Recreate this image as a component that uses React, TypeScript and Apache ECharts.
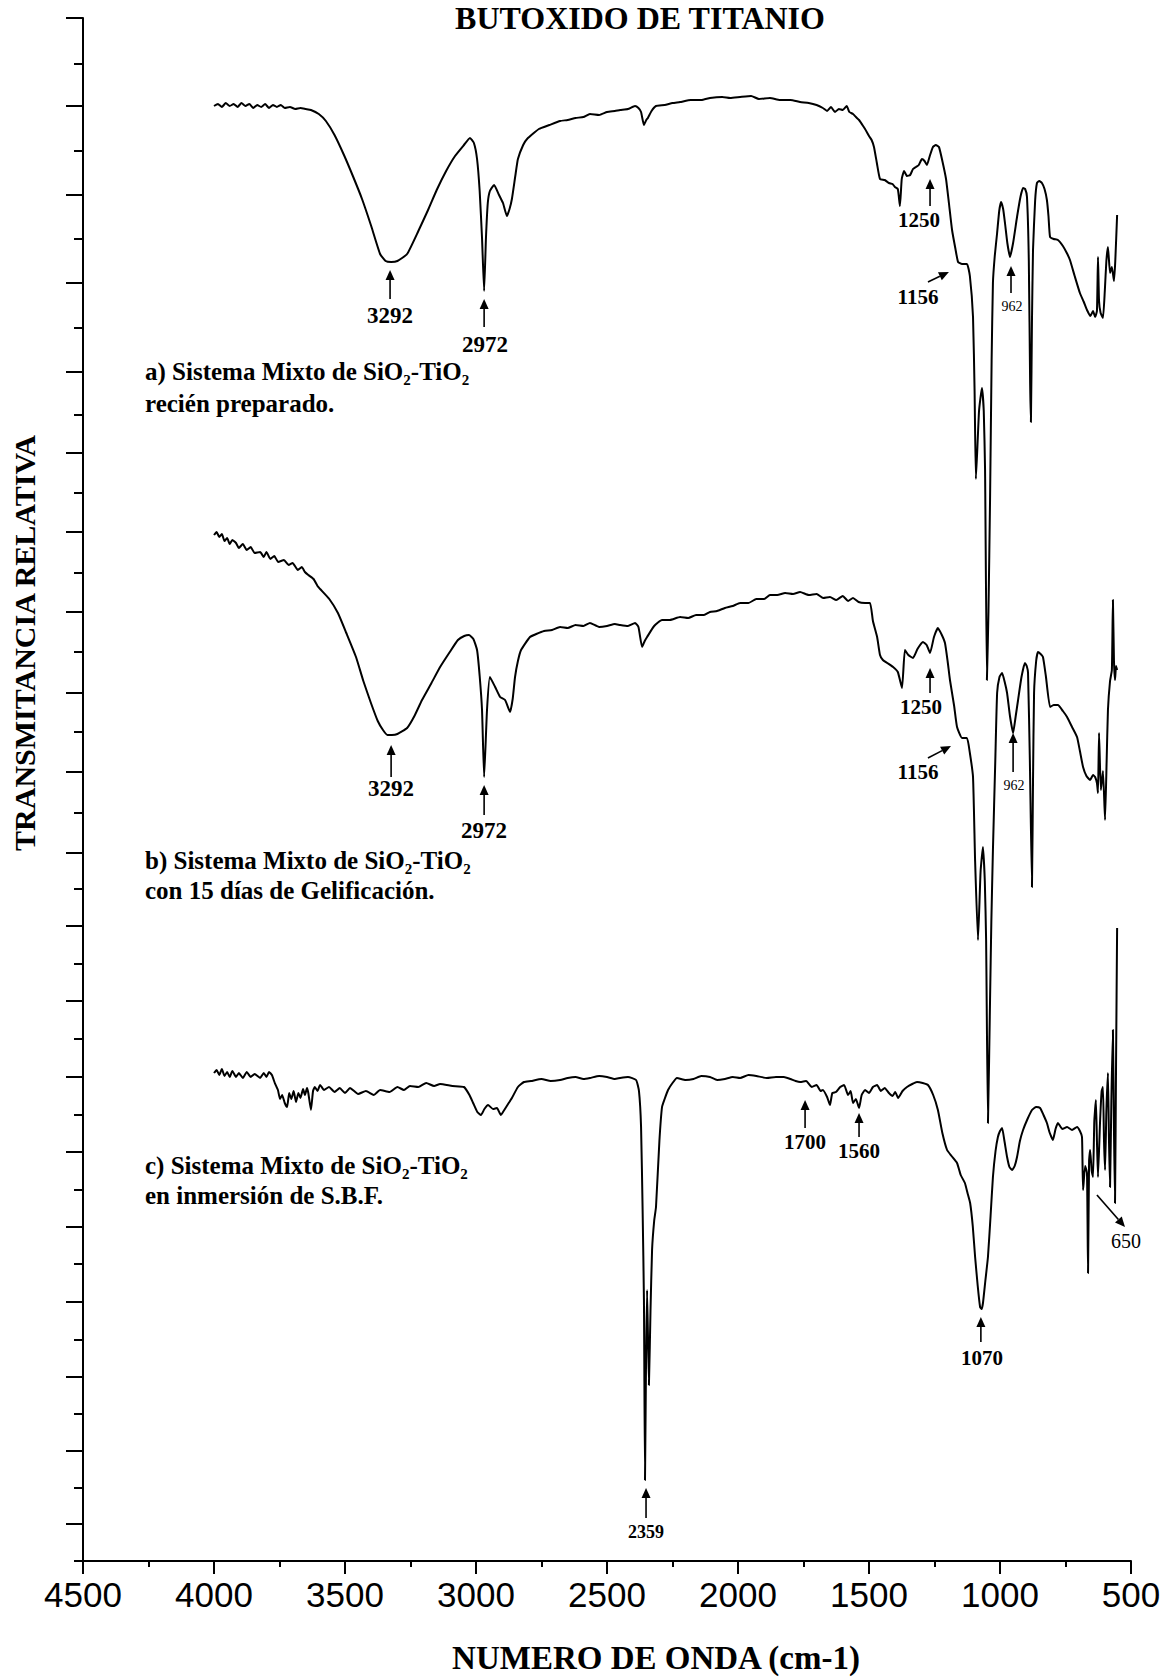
import React, { useEffect, useRef } from "react";
import * as echarts from "echarts";

// Wavenumber (cm-1) and relative transmittance (arbitrary units)
const spectrumA: number[][] = [
  [4000, 1455], [3985, 1457], [3970, 1454], [3955, 1458], [3940, 1455], [3925, 1457], [3910, 1454], [3895, 1458],
  [3880, 1455], [3865, 1457], [3850, 1453], [3835, 1456], [3820, 1454], [3805, 1457], [3790, 1453], [3775, 1456],
  [3760, 1454], [3745, 1456], [3730, 1453], [3710, 1454], [3690, 1452], [3670, 1453], [3650, 1452], [3630, 1451],
  [3600, 1447], [3573, 1440], [3540, 1426], [3504, 1406], [3470, 1385], [3435, 1362], [3400, 1335], [3366, 1307],
  [3345, 1300], [3324, 1299], [3300, 1300], [3263, 1307], [3220, 1330], [3183, 1351], [3150, 1371], [3114, 1390],
  [3080, 1405], [3046, 1416], [3023, 1423], [3008, 1418], [2996, 1402], [2986, 1370], [2977, 1323], [2969, 1270],
  [2962, 1323], [2955, 1358], [2947, 1370], [2931, 1376], [2912, 1366], [2897, 1358], [2882, 1345], [2872, 1352],
  [2863, 1362], [2850, 1385], [2840, 1402], [2820, 1416], [2805, 1422], [2760, 1432], [2720, 1436], [2679, 1440],
  [2650, 1441], [2620, 1443], [2590, 1444], [2565, 1447], [2530, 1446], [2500, 1449], [2470, 1450], [2450, 1451],
  [2420, 1452], [2393, 1455], [2380, 1453], [2370, 1449], [2359, 1436], [2350, 1441], [2344, 1443], [2330, 1450],
  [2313, 1455], [2280, 1456], [2250, 1458], [2221, 1459], [2180, 1461], [2140, 1461], [2107, 1463], [2060, 1464],
  [2030, 1463], [1992, 1464], [1950, 1465], [1920, 1462], [1878, 1463], [1840, 1461], [1800, 1461], [1763, 1459],
  [1730, 1458], [1700, 1456], [1676, 1453], [1660, 1450], [1645, 1454], [1630, 1449], [1615, 1452], [1600, 1451],
  [1585, 1455], [1575, 1449], [1561, 1447], [1550, 1444], [1538, 1441], [1525, 1436], [1515, 1432], [1500, 1425],
  [1490, 1421], [1481, 1414], [1470, 1398], [1458, 1382], [1440, 1381], [1424, 1378], [1410, 1377], [1401, 1374],
  [1390, 1372], [1382, 1355], [1375, 1382], [1366, 1390], [1355, 1385], [1343, 1386], [1332, 1392], [1321, 1394],
  [1310, 1396], [1298, 1402], [1288, 1400], [1279, 1396], [1268, 1405], [1256, 1414], [1245, 1416], [1233, 1414],
  [1220, 1400], [1206, 1382], [1195, 1358], [1183, 1331], [1170, 1312], [1160, 1299], [1145, 1297], [1126, 1297],
  [1115, 1285], [1103, 1244], [1097, 1170], [1092, 1082], [1080, 1150], [1069, 1173], [1062, 1150], [1057, 1091],
  [1050, 881], [1044, 950], [1038, 1061], [1032, 1200], [1027, 1278], [1020, 1305], [1011, 1328], [1003, 1350],
  [996, 1359], [988, 1352], [981, 1338], [972, 1318], [962, 1304], [950, 1318], [935, 1344], [922, 1364],
  [912, 1373], [904, 1372], [897, 1364], [890, 1300], [885, 1178], [882, 1139], [878, 1240], [874, 1311],
  [866, 1360], [859, 1378], [850, 1380], [840, 1378], [830, 1372], [821, 1361], [815, 1345], [809, 1324],
  [795, 1322], [779, 1321], [760, 1315], [745, 1308], [733, 1301], [715, 1285], [695, 1268], [680, 1259],
  [668, 1251], [655, 1245], [645, 1250], [637, 1244], [630, 1250], [626, 1304], [622, 1260], [616, 1248],
  [607, 1243], [600, 1270], [594, 1300], [588, 1314], [580, 1288], [573, 1294], [565, 1280], [560, 1300],
  [553, 1346],
];

const spectrumB: number[][] = [
  [4000, 1026], [3990, 1029], [3980, 1024], [3970, 1027], [3960, 1020], [3950, 1023], [3940, 1017], [3930, 1021],
  [3916, 1018], [3905, 1013], [3890, 1017], [3875, 1011], [3860, 1014], [3845, 1008], [3824, 1009], [3810, 1004],
  [3800, 1009], [3785, 1002], [3770, 1005], [3755, 999], [3733, 1001], [3715, 996], [3700, 998], [3680, 991],
  [3665, 994], [3653, 989], [3640, 986], [3620, 982], [3605, 975], [3595, 972], [3560, 962], [3527, 948],
  [3495, 928], [3458, 904], [3430, 880], [3401, 858], [3375, 840], [3355, 831], [3338, 826], [3321, 826],
  [3300, 827], [3263, 833], [3235, 845], [3206, 861], [3170, 878], [3137, 894], [3100, 909], [3069, 921],
  [3045, 925], [3027, 926], [3010, 922], [2996, 911], [2986, 885], [2977, 851], [2969, 784], [2958, 851],
  [2947, 884], [2927, 874], [2908, 864], [2889, 861], [2870, 849], [2860, 862], [2851, 884], [2840, 900],
  [2828, 911], [2794, 924], [2770, 927], [2740, 930], [2710, 931], [2679, 934], [2650, 933], [2620, 936],
  [2590, 935], [2565, 938], [2530, 934], [2500, 935], [2470, 937], [2450, 936], [2420, 935], [2393, 938],
  [2380, 934], [2366, 914], [2356, 920], [2347, 924], [2320, 935], [2290, 941], [2260, 941], [2221, 944],
  [2190, 943], [2160, 946], [2130, 946], [2107, 949], [2080, 950], [2050, 953], [2020, 955], [1992, 958],
  [1960, 958], [1930, 962], [1900, 962], [1878, 966], [1850, 966], [1820, 968], [1790, 967], [1763, 969],
  [1730, 966], [1700, 967], [1675, 963], [1649, 964], [1625, 961], [1600, 965], [1580, 960], [1561, 963],
  [1540, 959], [1515, 958], [1496, 958], [1485, 940], [1469, 924], [1458, 906], [1447, 901], [1430, 898],
  [1408, 894], [1390, 889], [1374, 873], [1363, 911], [1350, 906], [1332, 903], [1315, 912], [1294, 919],
  [1280, 916], [1267, 908], [1252, 924], [1237, 933], [1222, 926], [1210, 918], [1200, 900], [1191, 881],
  [1175, 855], [1164, 834], [1145, 823], [1126, 823], [1115, 808], [1103, 784], [1095, 700], [1084, 621],
  [1074, 690], [1065, 714], [1058, 680], [1053, 621], [1046, 438], [1038, 561], [1033, 640], [1027, 711],
  [1018, 800], [1011, 868], [1002, 884], [992, 888], [982, 879], [973, 868], [962, 845], [950, 828],
  [940, 845], [931, 861], [918, 884], [905, 898], [898, 895], [893, 888], [886, 800], [878, 674],
  [874, 780], [870, 868], [862, 900], [855, 909], [845, 907], [836, 904], [825, 885], [809, 854],
  [795, 856], [779, 856], [760, 850], [744, 844], [725, 834], [706, 824], [695, 810], [683, 794],
  [670, 785], [656, 781], [645, 786], [637, 784], [630, 778], [626, 768], [622, 828], [615, 771],
  [607, 790], [599, 741], [593, 800], [588, 851], [580, 880], [573, 891], [569, 961], [565, 900],
  [561, 881], [557, 895], [553, 891],
];

const spectrumC: number[][] = [
  [4000, 488], [3990, 491], [3980, 486], [3970, 492], [3960, 485], [3950, 489], [3940, 484], [3930, 490],
  [3916, 484], [3905, 488], [3890, 483], [3875, 489], [3860, 484], [3845, 487], [3824, 483], [3810, 488],
  [3800, 484], [3790, 489], [3779, 486], [3768, 478], [3756, 471], [3748, 462], [3740, 466], [3730, 458],
  [3721, 454], [3713, 468], [3705, 462], [3696, 470], [3687, 459], [3678, 468], [3670, 463], [3660, 472],
  [3653, 466], [3645, 473], [3640, 468], [3630, 451], [3622, 470], [3615, 474], [3605, 470], [3595, 476],
  [3580, 471], [3561, 474], [3540, 469], [3520, 473], [3500, 468], [3481, 473], [3450, 467], [3420, 470],
  [3390, 466], [3366, 471], [3330, 469], [3300, 474], [3275, 471], [3252, 475], [3220, 474], [3190, 478],
  [3160, 475], [3137, 477], [3090, 475], [3046, 474], [3025, 466], [3011, 458], [2995, 449], [2981, 446],
  [2968, 452], [2954, 456], [2935, 452], [2920, 453], [2905, 446], [2897, 449], [2880, 456], [2863, 463],
  [2840, 474], [2817, 479], [2790, 480], [2750, 482], [2715, 480], [2679, 481], [2650, 483], [2620, 484],
  [2590, 482], [2565, 483], [2530, 485], [2500, 484], [2470, 482], [2450, 483], [2420, 484], [2389, 481],
  [2378, 470], [2370, 434], [2364, 350], [2359, 261], [2355, 81], [2351, 200], [2347, 271], [2340, 176],
  [2334, 250], [2328, 311], [2320, 340], [2313, 354], [2300, 420], [2290, 454], [2280, 462], [2267, 471],
  [2250, 478], [2233, 483], [2200, 481], [2170, 482], [2140, 485], [2107, 484], [2080, 481], [2050, 482],
  [2020, 484], [1992, 483], [1960, 486], [1930, 485], [1890, 483], [1855, 484], [1825, 484], [1800, 482],
  [1780, 480], [1763, 479], [1740, 480], [1718, 474], [1700, 476], [1685, 470], [1676, 471], [1660, 464],
  [1649, 456], [1640, 468], [1626, 469], [1610, 474], [1595, 476], [1580, 466], [1570, 470], [1561, 458],
  [1550, 462], [1538, 453], [1528, 466], [1515, 471], [1500, 468], [1485, 474], [1469, 476], [1455, 470],
  [1440, 473], [1424, 468], [1410, 465], [1400, 469], [1389, 463], [1372, 470], [1355, 474], [1335, 477],
  [1317, 479], [1295, 478], [1275, 476], [1255, 466], [1237, 451], [1220, 428], [1202, 411], [1185, 405],
  [1164, 398], [1150, 386], [1134, 378], [1124, 368], [1114, 358], [1104, 335], [1095, 304], [1085, 275],
  [1076, 254], [1070, 252], [1065, 258], [1056, 280], [1046, 304], [1036, 345], [1027, 384], [1017, 410],
  [1008, 424], [1000, 430], [992, 433], [983, 420], [973, 404], [964, 394], [954, 391], [944, 395],
  [935, 404], [924, 420], [912, 431], [895, 442], [878, 451], [862, 454], [847, 453], [834, 446],
  [821, 438], [810, 428], [798, 421], [788, 432], [779, 438], [762, 432], [744, 434], [725, 431],
  [706, 434], [695, 430], [687, 424], [683, 371], [675, 395], [668, 388], [664, 288], [660, 400],
  [656, 411], [650, 390], [645, 384], [640, 440], [634, 461], [630, 420], [626, 384], [618, 440],
  [612, 470], [607, 474], [603, 420], [599, 391], [594, 450], [588, 488], [584, 420], [580, 374],
  [575, 460], [569, 531], [565, 430], [561, 358], [557, 500], [553, 633],
];

// Left axis tick positions (transmittance units); even-indexed ticks are the long ones
const yTickValues: number[] = [
  1543, 1497, 1455, 1410, 1366, 1322, 1278, 1233, 1189, 1146, 1108, 1068, 1029, 988, 949, 909, 868, 829, 789, 748,
  708, 672, 635, 597, 560, 522, 484, 446, 409, 371, 334, 297, 259, 221, 184, 147, 110, 73, 37, 0,
];
const yTickMajor: boolean[] = yTickValues.map((_, i) => i % 2 === 0);

// Peak annotations: label, arrow tail, arrow tip, label position (wavenumber, transmittance)
const annotations = [
  { label: "3292", tail: [3328, 1262], tip: [3328, 1291], at: [3328, 1246], size: 23, bold: true },
  { label: "2972", tail: [2969, 1234], tip: [2969, 1262], at: [2966, 1217], size: 23, bold: true },
  { label: "1250", tail: [1267, 1355], tip: [1267, 1382], at: [1309, 1341], size: 21, bold: true },
  { label: "1156", tail: [1275, 1279], tip: [1195, 1289], at: [1313, 1264], size: 21, bold: true },
  { label: "962", tail: [958, 1268], tip: [958, 1295], at: [954, 1255], size: 14, bold: false },
  { label: "3292", tail: [3324, 784], tip: [3324, 816], at: [3324, 773], size: 23, bold: true },
  { label: "2972", tail: [2969, 746], tip: [2969, 776], at: [2969, 731], size: 23, bold: true },
  { label: "1250", tail: [1267, 868], tip: [1267, 893], at: [1302, 854], size: 21, bold: true },
  { label: "1156", tail: [1275, 803], tip: [1187, 815], at: [1313, 789], size: 21, bold: true },
  { label: "962", tail: [950, 789], tip: [950, 828], at: [947, 776], size: 14, bold: false },
  { label: "1700", tail: [1744, 433], tip: [1744, 461], at: [1744, 419], size: 21, bold: true },
  { label: "1560", tail: [1538, 424], tip: [1538, 448], at: [1538, 410], size: 21, bold: true },
  { label: "1070", tail: [1073, 219], tip: [1073, 244], at: [1069, 203], size: 21, bold: true },
  { label: "650", tail: [630, 366], tip: [523, 334], at: [519, 320], size: 20, bold: false },
  { label: "2359", tail: [2351, 43], tip: [2351, 73], at: [2351, 29], size: 18, bold: true },
];

const sampleTexts: string[][] = [
  ["a) Sistema Mixto de SiO\u2082-TiO\u2082", "recién preparado."],
  ["b) Sistema Mixto de SiO\u2082-TiO\u2082", "con 15 días de Gelificación."],
  ["c) Sistema Mixto de SiO\u2082-TiO\u2082", "en inmersión de S.B.F."],
];

const titleText = "BUTOXIDO DE TITANIO";
const xTitle = "NUMERO DE ONDA (cm-1)";
const yTitle = "TRANSMITANCIA RELATIVA";

const SERIF = '"Liberation Serif", "Times New Roman", serif';

export default function App() {
  const ref = useRef<HTMLDivElement>(null);
  useEffect(() => {
    if (!ref.current) return;
    const chart = echarts.init(ref.current, null, { renderer: "svg" });

    const spectrumSeries = [spectrumA, spectrumB, spectrumC].map((d, i) => ({
      name: ["a", "b", "c"][i],
      type: "line",
      data: d,
      symbol: "none",
      smooth: 0.15,
      lineStyle: { color: "#000", width: 2, join: "round" },
      silent: true,
      z: 3,
    }));

    const textBlocks: any[] = [];
    const blockY = [[371, 403], [860, 890], [1165, 1195]];
    sampleTexts.forEach((lines, i) => {
      lines.forEach((t, j) => {
        textBlocks.push({
          type: "text",
          x: 145,
          y: blockY[i][j],
          style: {
            text: t,
            font: `bold 25px ${SERIF}`,
            fill: "#000",
            textAlign: "left",
            align: "left",
            textVerticalAlign: "middle",
            verticalAlign: "middle",
          },
        });
      });
    });

    const option: any = {
      animation: false,
      backgroundColor: "#fff",
      grid: { left: 83, right: 38, top: 18, bottom: 116, containLabel: false },
      xAxis: {
        type: "value",
        min: 500,
        max: 4500,
        interval: 500,
        inverse: true,
        axisLine: { onZero: false, lineStyle: { color: "#000", width: 2 } },
        axisTick: { length: 13, lineStyle: { color: "#000", width: 2 } },
        minorTick: { show: true, splitNumber: 2, length: 6, lineStyle: { color: "#000", width: 2 } },
        axisLabel: {
          color: "#000",
          fontFamily: '"Liberation Sans", Arial, sans-serif',
          fontSize: 35,
          margin: 16,
          formatter: (v: number) => String(v),
        },
        splitLine: { show: false },
        minorSplitLine: { show: false },
      },
      yAxis: {
        type: "value",
        min: 0,
        max: 1543,
        axisLine: { show: true, onZero: false, lineStyle: { color: "#000", width: 2 } },
        axisTick: { show: false },
        axisLabel: { show: false },
        splitLine: { show: false },
      },
      series: [
        ...spectrumSeries,
        {
          type: "custom",
          name: "yticks",
          data: yTickValues.map((v) => [4500, v]),
          encode: { x: 0, y: 1 },
          clip: false,
          silent: true,
          renderItem: (params: any, api: any) => {
            const v = yTickValues[params.dataIndex];
            const p = api.coord([4500, v]);
            const len = yTickMajor[params.dataIndex] ? 17 : 9;
            return {
              type: "line",
              shape: { x1: p[0] - len, y1: p[1], x2: p[0], y2: p[1] },
              style: { stroke: "#000", lineWidth: 2 },
            };
          },
        },
        {
          type: "custom",
          name: "annotations",
          data: annotations.map((a) => [a.tip[0], a.tip[1]]),
          encode: { x: 0, y: 1 },
          clip: false,
          silent: true,
          z: 4,
          renderItem: (params: any, api: any) => {
            const a = annotations[params.dataIndex];
            const p1 = api.coord(a.tail);
            const p2 = api.coord(a.tip);
            const pl = api.coord(a.at);
            const dx = p2[0] - p1[0];
            const dy = p2[1] - p1[1];
            const L = Math.hypot(dx, dy) || 1;
            const ux = dx / L;
            const uy = dy / L;
            const hl = 10;
            const hw = 4.5;
            const bx = p2[0] - ux * hl;
            const by = p2[1] - uy * hl;
            return {
              type: "group",
              children: [
                {
                  type: "line",
                  shape: { x1: p1[0], y1: p1[1], x2: bx, y2: by },
                  style: { stroke: "#000", lineWidth: 1.6 },
                },
                {
                  type: "polygon",
                  shape: {
                    points: [
                      [p2[0], p2[1]],
                      [bx - uy * hw, by + ux * hw],
                      [bx + uy * hw, by - ux * hw],
                    ],
                  },
                  style: { fill: "#000" },
                },
                {
                  type: "text",
                  x: pl[0],
                  y: pl[1],
                  style: {
                    text: a.label,
                    font: `${a.bold ? "bold " : ""}${a.size}px ${SERIF}`,
                    fill: "#000",
                    textAlign: "center",
                    align: "center",
                    textVerticalAlign: "middle",
                    verticalAlign: "middle",
                  },
                },
              ],
            };
          },
        },
      ],
      graphic: [
        {
          type: "text",
          x: 640,
          y: 18,
          style: {
            text: titleText,
            font: `bold 32px ${SERIF}`,
            fill: "#000",
            textAlign: "center",
            align: "center",
            textVerticalAlign: "middle",
            verticalAlign: "middle",
          },
        },
        {
          type: "text",
          x: 656,
          y: 1658,
          style: {
            text: xTitle,
            font: `bold 33px ${SERIF}`,
            fill: "#000",
            textAlign: "center",
            align: "center",
            textVerticalAlign: "middle",
            verticalAlign: "middle",
          },
        },
        {
          type: "text",
          x: 24,
          y: 643,
          rotation: Math.PI / 2,
          style: {
            text: yTitle,
            font: `bold 30px ${SERIF}`,
            fill: "#000",
            textAlign: "center",
            align: "center",
            textVerticalAlign: "middle",
            verticalAlign: "middle",
          },
        },
        ...textBlocks,
      ],
    };

    chart.setOption(option);
    return () => chart.dispose();
  }, []);

  return (
    <div
      ref={ref}
      style={{ position: "absolute", left: 0, top: 0, width: 1169, height: 1677, background: "#fff" }}
    />
  );
}
